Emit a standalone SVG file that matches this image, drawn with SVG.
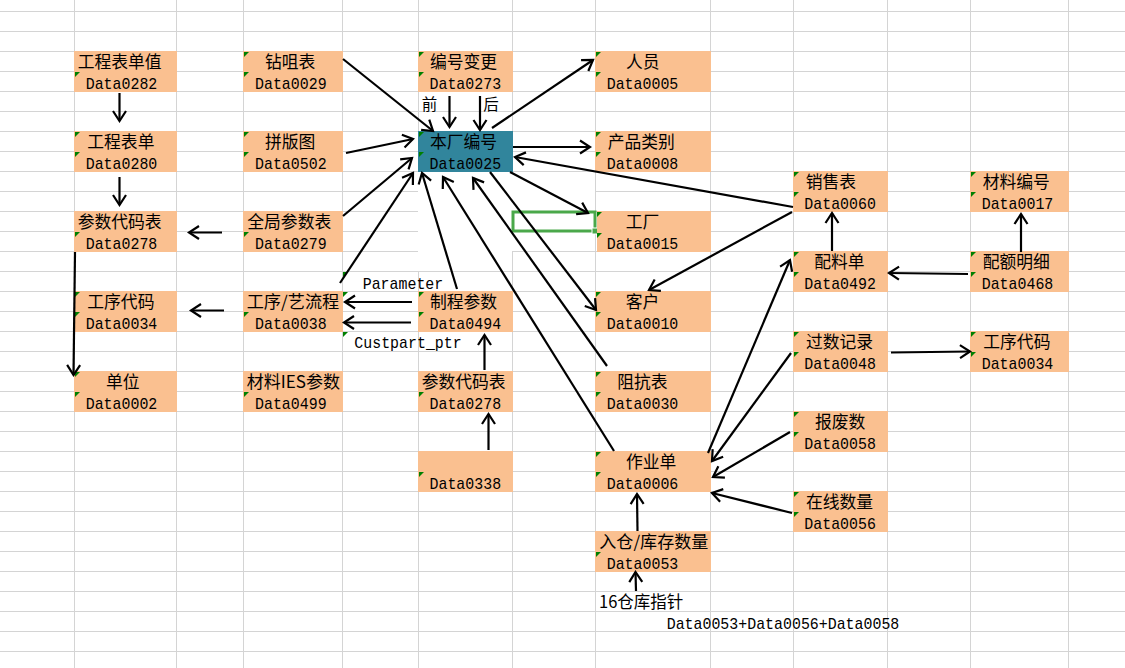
<svg xmlns="http://www.w3.org/2000/svg" width="1125" height="668" viewBox="0 0 1125 668">
  <style>
    .grid { stroke: #d4d4d4; stroke-width: 1; fill: none; }
    .box { fill: #fac090; }
    .key { fill: #31859c; }
    .cn { font-family: "Noto Sans CJK SC", "Liberation Mono", sans-serif; font-size: 16.8px; fill: #000; }
    .la { font-family: "Liberation Mono", "Noto Sans CJK SC", monospace; font-size: 17px; fill: #000; }
    .sm { font-family: "Noto Sans CJK SC", sans-serif; font-size: 15.5px; fill: #000; }
    .tri { fill: #008000; }
    .conn path { stroke: #000; stroke-width: 2.2; fill: none; marker-end: url(#arr); }
  </style>
  <defs>
    <marker id="arr" viewBox="-13 -9 16 18" markerWidth="16" markerHeight="18" refX="0" refY="0" orient="auto" markerUnits="userSpaceOnUse">
      <path d="M-10,-6.5 L0,0 L-10,6.5" fill="none" stroke="#000" stroke-width="2.2"/>
    </marker>
  </defs>

  <rect width="1125" height="668" fill="#fff"/>

  <!-- sheet gridlines -->
  <g id="grid">
    <path class="grid" d="M0 11.5H1125M0 31.5H1125M0 51.5H1125M0 71.5H1125M0 91.5H1125M0 111.5H1125M0 131.5H1125M0 151.5H1125M0 171.5H1125M0 191.5H1125M0 211.5H1125M0 231.5H1125M0 251.5H1125M0 271.5H1125M0 291.5H1125M0 311.5H1125M0 331.5H1125M0 351.5H1125M0 371.5H1125M0 391.5H1125M0 411.5H1125M0 431.5H1125M0 451.5H1125M0 471.5H1125M0 491.5H1125M0 511.5H1125M0 531.5H1125M0 551.5H1125M0 571.5H1125M0 591.5H1125M0 611.5H1125M0 631.5H1125M0 651.5H1125"/>
    <path class="grid" d="M74.5 0V668M176.5 0V668M243.5 0V668M342.5 0V668M418.5 0V668M512.5 0V668M595.5 0V668M710.5 0V668M793.5 0V668M887.5 0V668M970.5 0V668M1068.5 0V668"/>
    <!-- white-filled cells below the key node -->
    <rect x="418" y="172" width="177" height="79" fill="#fff"/>
    <rect x="418" y="251" width="94" height="20" fill="#fff"/>
  </g>

  <!-- selected cell -->
  <g id="selection">
    <rect x="513" y="212" width="82" height="19" fill="none" stroke="#4aa84a" stroke-width="3"/>
    <rect x="592" y="228" width="6" height="6" fill="#4aa84a" stroke="#fff" stroke-width="1"/>
  </g>

  <!-- column A -->
  <g id="n-0282">
    <rect class="box" x="74" y="51" width="103" height="41"/>
    <polygon class="tri" points="75,72 80,72 75,77"/>
    <text class="cn" x="77.7" y="68">工程表单值</text>
    <text class="la" x="85.7" y="89.3" textLength="71.6" lengthAdjust="spacingAndGlyphs">Data0282</text>
  </g>
  <g id="n-0280">
    <rect class="box" x="74" y="131" width="103" height="41"/>
    <polygon class="tri" points="75,132 80,132 75,137"/>
    <polygon class="tri" points="75,152 80,152 75,157"/>
    <text class="cn" x="87.3" y="148">工程表单</text>
    <text class="la" x="85.7" y="169.3" textLength="71.6" lengthAdjust="spacingAndGlyphs">Data0280</text>
  </g>
  <g id="n-0278a">
    <rect class="box" x="74" y="211" width="103" height="41"/>
    <polygon class="tri" points="75,232 80,232 75,237"/>
    <text class="cn" x="77.7" y="228">参数代码表</text>
    <text class="la" x="85.7" y="249.3" textLength="71.6" lengthAdjust="spacingAndGlyphs">Data0278</text>
  </g>
  <g id="n-0034a">
    <rect class="box" x="74" y="291" width="103" height="41"/>
    <polygon class="tri" points="75,292 80,292 75,297"/>
    <polygon class="tri" points="75,312 80,312 75,317"/>
    <text class="cn" x="87.3" y="308">工序代码</text>
    <text class="la" x="85.7" y="329.3" textLength="71.6" lengthAdjust="spacingAndGlyphs">Data0034</text>
  </g>
  <g id="n-0002">
    <rect class="box" x="74" y="371" width="103" height="41"/>
    <polygon class="tri" points="75,372 80,372 75,377"/>
    <polygon class="tri" points="75,392 80,392 75,397"/>
    <text class="cn" x="106" y="388">单位</text>
    <text class="la" x="85.7" y="409.3" textLength="71.6" lengthAdjust="spacingAndGlyphs">Data0002</text>
  </g>

  <!-- column C -->
  <g id="n-0029">
    <rect class="box" x="243" y="51" width="100" height="41"/>
    <polygon class="tri" points="244,52 249,52 244,57"/>
    <polygon class="tri" points="244,72 249,72 244,77"/>
    <text class="cn" x="265" y="68">钻咀表</text>
    <text class="la" x="255" y="89.3" textLength="71.6" lengthAdjust="spacingAndGlyphs">Data0029</text>
  </g>
  <g id="n-0502">
    <rect class="box" x="243" y="131" width="100" height="41"/>
    <polygon class="tri" points="244,132 249,132 244,137"/>
    <polygon class="tri" points="244,152 249,152 244,157"/>
    <text class="cn" x="265" y="148">拼版图</text>
    <text class="la" x="255" y="169.3" textLength="71.6" lengthAdjust="spacingAndGlyphs">Data0502</text>
  </g>
  <g id="n-0279">
    <rect class="box" x="243" y="211" width="100" height="41"/>
    <polygon class="tri" points="244,232 249,232 244,237"/>
    <text class="cn" x="247.3" y="228">全局参数表</text>
    <text class="la" x="255" y="249.3" textLength="71.6" lengthAdjust="spacingAndGlyphs">Data0279</text>
  </g>
  <g id="n-0038">
    <rect class="box" x="243" y="291" width="100" height="41"/>
    <polygon class="tri" points="244,312 249,312 244,317"/>
    <text class="cn" x="246.7" y="308" textLength="92.6" lengthAdjust="spacingAndGlyphs">工序/艺流程</text>
    <text class="la" x="255" y="329.3" textLength="71.6" lengthAdjust="spacingAndGlyphs">Data0038</text>
  </g>
  <g id="n-0499">
    <rect class="box" x="243" y="371" width="100" height="41"/>
    <polygon class="tri" points="244,392 249,392 244,397"/>
    <text class="cn" x="246.7" y="388" textLength="93.3" lengthAdjust="spacingAndGlyphs">材料IES参数</text>
    <text class="la" x="255" y="409.3" textLength="71.6" lengthAdjust="spacingAndGlyphs">Data0499</text>
  </g>

  <!-- column E -->
  <g id="n-0273">
    <rect class="box" x="418" y="51" width="95" height="41"/>
    <polygon class="tri" points="419,52 424,52 419,57"/>
    <polygon class="tri" points="419,72 424,72 419,77"/>
    <text class="cn" x="430" y="68">编号变更</text>
    <text class="la" x="429.5" y="89.3" textLength="71.6" lengthAdjust="spacingAndGlyphs">Data0273</text>
  </g>
  <g id="n-0025">
    <rect class="key" x="418" y="131" width="95" height="41"/>
    <polygon class="tri" points="419,132 424,132 419,137"/>
    <polygon class="tri" points="419,152 424,152 419,157"/>
    <text class="cn" x="430" y="148">本厂编号</text>
    <text class="la" x="429.5" y="169.3" textLength="71.6" lengthAdjust="spacingAndGlyphs">Data0025</text>
  </g>
  <g id="n-0494">
    <rect class="box" x="418" y="291" width="95" height="41"/>
    <polygon class="tri" points="419,292 424,292 419,297"/>
    <polygon class="tri" points="419,312 424,312 419,317"/>
    <text class="cn" x="430" y="308">制程参数</text>
    <text class="la" x="429.5" y="329.3" textLength="71.6" lengthAdjust="spacingAndGlyphs">Data0494</text>
  </g>
  <g id="n-0278e">
    <rect class="box" x="418" y="371" width="95" height="41"/>
    <polygon class="tri" points="419,392 424,392 419,397"/>
    <text class="cn" x="421.7" y="388">参数代码表</text>
    <text class="la" x="429.5" y="409.3" textLength="71.6" lengthAdjust="spacingAndGlyphs">Data0278</text>
  </g>
  <g id="n-0338">
    <rect class="box" x="418" y="451" width="95" height="41"/>
    <polygon class="tri" points="419,472 424,472 419,477"/>
    <text class="la" x="429.5" y="489.3" textLength="71.6" lengthAdjust="spacingAndGlyphs">Data0338</text>
  </g>

  <!-- column G -->
  <g id="n-0005">
    <rect class="box" x="595" y="51" width="116" height="41"/>
    <polygon class="tri" points="596,52 601,52 596,57"/>
    <polygon class="tri" points="596,72 601,72 596,77"/>
    <text class="cn" x="626" y="68">人员</text>
    <text class="la" x="606.7" y="89.3" textLength="71.6" lengthAdjust="spacingAndGlyphs">Data0005</text>
  </g>
  <g id="n-0008">
    <rect class="box" x="595" y="131" width="116" height="41"/>
    <polygon class="tri" points="596,132 601,132 596,137"/>
    <polygon class="tri" points="596,152 601,152 596,157"/>
    <text class="cn" x="607.7" y="148">产品类别</text>
    <text class="la" x="606.7" y="169.3" textLength="71.6" lengthAdjust="spacingAndGlyphs">Data0008</text>
  </g>
  <g id="n-0015">
    <rect class="box" x="597" y="211" width="114" height="41"/>
    <polygon class="tri" points="597,212 602,212 597,217"/>
    <polygon class="tri" points="597,233 602,233 597,238"/>
    <text class="cn" x="625.7" y="228">工厂</text>
    <text class="la" x="606.7" y="249.3" textLength="71.6" lengthAdjust="spacingAndGlyphs">Data0015</text>
  </g>
  <g id="n-0010">
    <rect class="box" x="595" y="291" width="116" height="41"/>
    <polygon class="tri" points="596,292 601,292 596,297"/>
    <polygon class="tri" points="596,312 601,312 596,317"/>
    <text class="cn" x="625.7" y="308">客户</text>
    <text class="la" x="606.7" y="329.3" textLength="71.6" lengthAdjust="spacingAndGlyphs">Data0010</text>
  </g>
  <g id="n-0030">
    <rect class="box" x="595" y="371" width="116" height="41"/>
    <polygon class="tri" points="596,372 601,372 596,377"/>
    <polygon class="tri" points="596,392 601,392 596,397"/>
    <text class="cn" x="617.3" y="388">阻抗表</text>
    <text class="la" x="606.7" y="409.3" textLength="71.6" lengthAdjust="spacingAndGlyphs">Data0030</text>
  </g>
  <g id="n-0006">
    <rect class="box" x="595" y="451" width="116" height="41"/>
    <polygon class="tri" points="596,452 601,452 596,457"/>
    <polygon class="tri" points="596,472 601,472 596,477"/>
    <text class="cn" x="626" y="468">作业单</text>
    <text class="la" x="606.7" y="489.3" textLength="71.6" lengthAdjust="spacingAndGlyphs">Data0006</text>
  </g>
  <g id="n-0053">
    <rect class="box" x="595" y="531" width="116" height="41"/>
    <polygon class="tri" points="596,552 601,552 596,557"/>
    <text class="cn" x="599.3" y="548" textLength="109" lengthAdjust="spacingAndGlyphs">入仓/库存数量</text>
    <text class="la" x="606.7" y="569.3" textLength="71.6" lengthAdjust="spacingAndGlyphs">Data0053</text>
  </g>

  <!-- column I -->
  <g id="n-0060">
    <rect class="box" x="793" y="171" width="95" height="41"/>
    <polygon class="tri" points="794,172 799,172 794,177"/>
    <polygon class="tri" points="794,192 799,192 794,197"/>
    <text class="cn" x="805.7" y="188">销售表</text>
    <text class="la" x="804.3" y="209.3" textLength="71.6" lengthAdjust="spacingAndGlyphs">Data0060</text>
  </g>
  <g id="n-0492">
    <rect class="box" x="793" y="251" width="95" height="41"/>
    <polygon class="tri" points="794,252 799,252 794,257"/>
    <polygon class="tri" points="794,272 799,272 794,277"/>
    <text class="cn" x="814.3" y="268">配料单</text>
    <text class="la" x="804.3" y="289.3" textLength="71.6" lengthAdjust="spacingAndGlyphs">Data0492</text>
  </g>
  <g id="n-0048">
    <rect class="box" x="793" y="331" width="95" height="41"/>
    <polygon class="tri" points="794,332 799,332 794,337"/>
    <polygon class="tri" points="794,352 799,352 794,357"/>
    <text class="cn" x="806" y="348">过数记录</text>
    <text class="la" x="804.3" y="369.3" textLength="71.6" lengthAdjust="spacingAndGlyphs">Data0048</text>
  </g>
  <g id="n-0058">
    <rect class="box" x="793" y="411" width="95" height="41"/>
    <polygon class="tri" points="794,412 799,412 794,417"/>
    <polygon class="tri" points="794,432 799,432 794,437"/>
    <text class="cn" x="815" y="428">报废数</text>
    <text class="la" x="804.3" y="449.3" textLength="71.6" lengthAdjust="spacingAndGlyphs">Data0058</text>
  </g>
  <g id="n-0056">
    <rect class="box" x="793" y="491" width="95" height="41"/>
    <polygon class="tri" points="794,492 799,492 794,497"/>
    <polygon class="tri" points="794,512 799,512 794,517"/>
    <text class="cn" x="806" y="508">在线数量</text>
    <text class="la" x="804.3" y="529.3" textLength="71.6" lengthAdjust="spacingAndGlyphs">Data0056</text>
  </g>

  <!-- column K -->
  <g id="n-0017">
    <rect class="box" x="970" y="171" width="99" height="41"/>
    <polygon class="tri" points="971,172 976,172 971,177"/>
    <polygon class="tri" points="971,192 976,192 971,197"/>
    <text class="cn" x="982.7" y="188">材料编号</text>
    <text class="la" x="981.7" y="209.3" textLength="71.6" lengthAdjust="spacingAndGlyphs">Data0017</text>
  </g>
  <g id="n-0468">
    <rect class="box" x="970" y="251" width="99" height="41"/>
    <polygon class="tri" points="971,252 976,252 971,257"/>
    <polygon class="tri" points="971,272 976,272 971,277"/>
    <text class="cn" x="982.7" y="268">配额明细</text>
    <text class="la" x="981.7" y="289.3" textLength="71.6" lengthAdjust="spacingAndGlyphs">Data0468</text>
  </g>
  <g id="n-0034k">
    <rect class="box" x="970" y="331" width="99" height="41"/>
    <polygon class="tri" points="971,332 976,332 971,337"/>
    <polygon class="tri" points="971,352 976,352 971,357"/>
    <text class="cn" x="983.3" y="348">工序代码</text>
    <text class="la" x="981.7" y="369.3" textLength="71.6" lengthAdjust="spacingAndGlyphs">Data0034</text>
  </g>

  <!-- free-standing labels -->
  <g id="labels">
    <polygon class="tri" points="343,272 348,272 343,277"/>
    <polygon class="tri" points="343,292 348,292 343,297"/>
    <polygon class="tri" points="343,332 348,332 343,337"/>
    <text class="sm" x="421.7" y="109.5">前</text>
    <text class="sm" x="483.3" y="109.5">后</text>
    <text class="la" x="362.7" y="289.3" textLength="80.6" lengthAdjust="spacingAndGlyphs">Parameter</text>
    <text class="la" x="354.3" y="348.3" textLength="107.4" lengthAdjust="spacingAndGlyphs">Custpart_ptr</text>
    <text class="cn" x="599" y="608" textLength="84.3" lengthAdjust="spacingAndGlyphs">16仓库指针</text>
    <text class="la" x="666.7" y="629.3" textLength="232.6" lengthAdjust="spacingAndGlyphs">Data0053+Data0056+Data0058</text>
  </g>

  <!-- connectors -->
  <g id="connectors" class="conn">
    <path d="M119.5,93 L119.5,121"/>
    <path d="M119.5,177 L119.5,205"/>
    <path d="M222,232.5 L189,232.5"/>
    <path d="M224,310.5 L191,310.5"/>
    <path d="M75,252 L73.5,375"/>
    <path d="M343,59 L433,131"/>
    <path d="M346,153 L413,139"/>
    <path d="M343,216 L412,158"/>
    <path d="M340,283 L413,173"/>
    <path d="M457,289 L422,173"/>
    <path d="M614,451 L443,177"/>
    <path d="M607,366 L473,178"/>
    <path d="M490,172 L596,310"/>
    <path d="M510,172 L588,213"/>
    <path d="M513,147 L590,147"/>
    <path d="M793,207 L515,157"/>
    <path d="M792,212 L649,290"/>
    <path d="M492,128 L593,60"/>
    <path d="M449.5,96 L449.5,127"/>
    <path d="M480,96 L480,130"/>
    <path d="M412,302 L345,302"/>
    <path d="M411,322.5 L344,322.5"/>
    <path d="M484.5,370 L484.5,335"/>
    <path d="M488.5,450 L488.5,414"/>
    <path d="M637.5,531 L637,494"/>
    <path d="M636,591 L635.5,572"/>
    <path d="M708,453 L790,260"/>
    <path d="M791,353 L712,461"/>
    <path d="M790,432 L713,477"/>
    <path d="M792,513 L712,493"/>
    <path d="M832,251 L832,213"/>
    <path d="M968,274 L889,273"/>
    <path d="M1021,252 L1021,214"/>
    <path d="M891,352.5 L970,351.5"/>
  </g>
</svg>
